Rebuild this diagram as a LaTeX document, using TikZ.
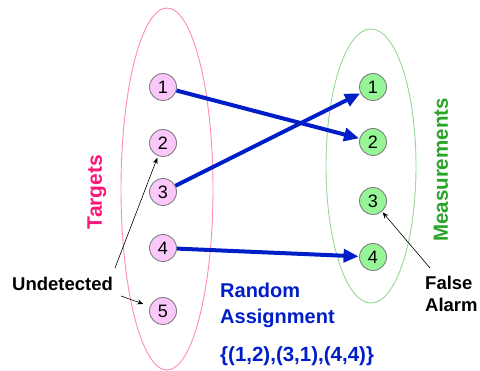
\documentclass[tikz,border=0pt]{standalone}
\usepackage{fontspec}
\setmainfont{Liberation Sans}
\usetikzlibrary{arrows.meta}
\definecolor{tpink}{RGB}{255,20,120}
\definecolor{epink}{RGB}{255,140,175}
\definecolor{egreen}{RGB}{150,215,150}
\definecolor{mgreen}{RGB}{40,165,40}
\definecolor{cpink}{RGB}{250,200,250}
\definecolor{cgreen}{RGB}{150,245,150}
\definecolor{ablue}{RGB}{0,30,200}
\tikzset{
  tnode/.style={circle,draw=gray,fill=cpink,line width=0.9pt,minimum size=27pt,inner sep=0pt,font=\fontsize{18}{18}\selectfont},
  mnode/.style={circle,draw=gray,fill=cgreen,line width=0.9pt,minimum size=27pt,inner sep=0pt,font=\fontsize{18}{18}\selectfont},
  assign/.style={ablue,line width=4pt,-{Triangle[length=15pt,width=13pt]},shorten >=0.5pt},
  note/.style={black,line width=0.6pt,-{Stealth[length=6pt,width=5pt]}},
  lbl/.style={inner sep=0pt,font=\fontsize{18.5}{22}\selectfont\bfseries}
}
\begin{document}
\begin{tikzpicture}[x=1pt,y=-1pt]
\useasboundingbox (0,0) rectangle (480,371);
% ellipses
\draw[epink,line width=0.9pt] (167,189) ellipse [x radius=46,y radius=181];
\draw[egreen,line width=0.9pt] (371,166) ellipse [x radius=45,y radius=137];
% nodes
\node[tnode] (t1) at (163,87) {1};
\node[tnode] (t2) at (163,143) {2};
\node[tnode] (t3) at (163,192) {3};
\node[tnode] (t4) at (163,248) {4};
\node[tnode] (t5) at (163,311) {5};
\node[mnode] (m1) at (373,87) {1};
\node[mnode] (m2) at (373,142) {2};
\node[mnode] (m3) at (373,201) {3};
\node[mnode] (m4) at (373,257) {4};
% set labels
\node[lbl,tpink,rotate=90,font=\fontsize{21}{24}\selectfont\bfseries] (targets) at (97,192) {Targets};
\node[lbl,mgreen,rotate=90,font=\fontsize{20.5}{24}\selectfont\bfseries] (meas) at (441,170) {Measurements};
% assignments
\draw[assign] (t1) -- (m2);
\draw[assign] (t3) -- (m1);
\draw[assign] (t4) -- (m4);
% notes
\node[lbl,anchor=base west] (und) at (12,291) {Undetected};
\coordinate (u1) at (115,268);
\coordinate (u2) at (121,296);
\draw[note,shorten >=2pt] (u1) -- (t2);
\draw[note,shorten >=7pt] (u2) -- (t5);
\node[lbl,anchor=base west,align=left,font=\fontsize{18.5}{22}\selectfont\bfseries] (fa) at (425,312) {False\\Alarm};
\coordinate (f1) at (430,268);
\draw[note,shorten >=1pt] (f1) -- (m3);
\node[lbl,ablue,anchor=base west,align=left,font=\fontsize{20}{26}\selectfont\bfseries] (ra) at (220,324) {Random\\Assignment};
\node[lbl,ablue,anchor=base west,font=\fontsize{20.5}{24}\selectfont\bfseries] (set) at (220,362) {\{(1,2),(3,1),(4,4)\}};
\end{tikzpicture}
\end{document}
